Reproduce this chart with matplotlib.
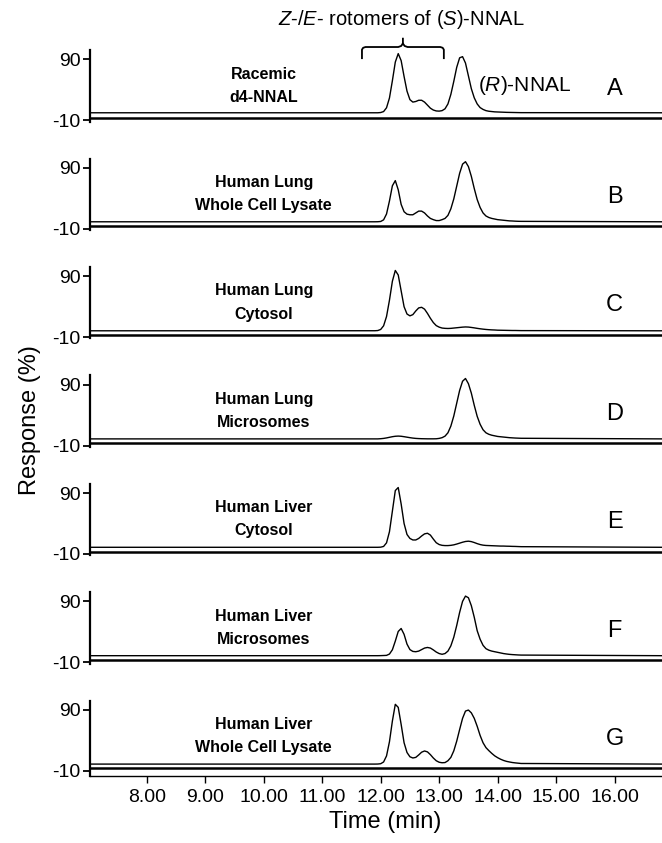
import matplotlib
matplotlib.use('Agg')
import matplotlib.pyplot as plt

plt.rcParams['font.family'] = ['Liberation Sans', 'DejaVu Sans']
plt.rcParams['mathtext.fontset'] = 'custom'
plt.rcParams['mathtext.rm'] = 'Liberation Sans'
plt.rcParams['mathtext.it'] = 'Liberation Sans:italic'

# retention time samples (min) across the peak window
peak_times = [11.90, 11.95, 12.00, 12.05, 12.10, 12.15, 12.20, 12.25, 12.30, 12.35,
              12.40, 12.45, 12.50, 12.55, 12.60, 12.65, 12.70, 12.75, 12.80, 12.85,
              12.90, 12.95, 13.00, 13.05, 13.10, 13.15, 13.20, 13.25, 13.30, 13.35,
              13.40, 13.45, 13.50, 13.55, 13.60, 13.65, 13.70, 13.75, 13.80, 13.85,
              13.90, 13.95, 14.00, 14.05, 14.10, 14.15, 14.20, 14.25, 14.30, 14.35, 14.40]
run_start = 7.03
run_end = 16.81

# response (%)
resp_a = [2.5, 2.5, 2.9, 4.5, 10.7, 26.7, 55, 85.6, 99.5, 88,
          62, 38, 24, 20, 21, 23, 23, 20, 15, 10,
          7, 5.5, 5.2, 6, 9, 17, 32.7, 54, 77, 92.6,
          94.5, 84, 63, 42, 27, 17, 11, 8, 6, 5,
          4.5, 4, 3.8, 3.6, 3.4, 3.2, 3.1, 3, 2.9, 2.8, 2.7]
resp_b = [1.5, 1.6, 2, 4.7, 14.3, 35.6, 60.5, 69, 54, 30,
          18, 14, 13, 13, 16, 19, 19, 16, 11, 7,
          5, 3.5, 3.5, 5, 7, 12, 22.8, 39, 60, 81,
          96, 100, 92, 76, 56, 38, 25, 16, 11, 8.5,
          7, 6, 5, 4.5, 4, 3.5, 3, 2.8, 2.5, 2.3, 2.2]
resp_c = [0.6, 0.9, 2.7, 8.7, 23.9, 50.6, 81.7, 99.4, 92, 66,
          40, 28, 25, 27, 33, 38, 39, 36, 29, 21,
          14, 9, 6.5, 5, 4.5, 4.3, 4.5, 5, 5.5, 6,
          6.5, 6.8, 6.6, 6, 5.3, 4.5, 3.8, 3.2, 2.7, 2.3,
          2, 1.8, 1.5, 1.4, 1.3, 1.2, 1.1, 1.0, 1.0, 0.9, 0.8]
resp_d = [1, 1, 1.3, 1.8, 2.6, 3.6, 4.6, 5.3, 5.6, 5.3,
          4.6, 3.8, 3, 2.3, 1.8, 1.5, 1.3, 1.2, 1.1, 1.1,
          1.1, 1.2, 1.8, 3, 5.5, 11, 22, 38.5, 59.5, 80.5,
          95.5, 100, 91.5, 76, 56, 38, 25, 16, 11, 8.5,
          7, 6, 5, 4.5, 4, 3.5, 3, 2.7, 2.4, 2.2, 2]
resp_e = [1, 1, 1.2, 2.4, 8.3, 26.5, 60.2, 94, 99, 72,
          40, 22, 15.5, 13, 13, 15.5, 19.5, 23, 24, 21,
          14.5, 8.5, 5.5, 4.2, 3.8, 3.8, 4.2, 5, 6.3, 7.8,
          9.3, 10.5, 11, 10.3, 8.8, 7, 5.5, 4.5, 4, 3.8,
          3.6, 3.4, 3.2, 3, 3, 2.8, 2.7, 2.5, 2.4, 2.2, 2]
resp_f = [1, 1, 1.1, 1.3, 1.5, 3.7, 10.7, 24.9, 40.7, 45.6,
          36, 20, 11, 8, 7.5, 8.5, 11, 13.5, 14.5, 13.5,
          10.5, 7, 4.5, 3.3, 4.5, 8.5, 17.2, 31.3, 50.5, 72,
          90, 98.7, 96, 83, 64, 42, 28, 18, 12.5, 10,
          8.5, 7.5, 6.5, 5.5, 4.5, 3.8, 3.2, 2.8, 2.5, 2.2, 2]
resp_g = [1, 1.1, 1.6, 4.5, 14.4, 37.6, 71.5, 99, 94, 66,
          36, 20, 13, 11, 12, 16, 20.5, 22.5, 21, 16.5,
          11, 6.5, 4, 3.2, 3.5, 6.5, 12, 22.7, 38.6, 57.7,
          76, 87.9, 89.6, 85, 76, 63, 48, 36, 28, 23,
          18.5, 14.5, 11.5, 9, 7, 5.5, 4.5, 3.6, 3, 2.5, 2]
baselines = [2.5, 1.5, 0.5, 1, 1, 1, 1]

responses = [resp_a, resp_b, resp_c, resp_d, resp_e, resp_f, resp_g]
sample_labels = [('Racemic', 'd4-NNAL'),
                 ('Human Lung', 'Whole Cell Lysate'),
                 ('Human Lung', 'Cytosol'),
                 ('Human Lung', 'Microsomes'),
                 ('Human Liver', 'Cytosol'),
                 ('Human Liver', 'Microsomes'),
                 ('Human Liver', 'Whole Cell Lysate')]
panel_letters = ['A', 'B', 'C', 'D', 'E', 'F', 'G']
time_ticks = [8, 9, 10, 11, 12, 13, 14, 15, 16]

W, H = 662, 843
fig = plt.figure(figsize=(W / 100, H / 100), dpi=100)

left_px = 90
px_per_unit = 0.61
y_top = 105

axes = []
for k in range(7):
    y_m10 = 120.4 + k * 108.4
    y_bot = -19 if k == 6 else -12
    top_px = y_m10 - (y_top + 10) * px_per_unit
    bot_px = y_m10 - (y_bot + 10) * px_per_unit
    ax = fig.add_axes([left_px / W, 1 - bot_px / H, 1 - left_px / W, (bot_px - top_px) / H])
    ax.set_xlim(run_start, run_end)
    ax.set_ylim(y_bot, y_top)

    base = baselines[k]
    t = [run_start] + peak_times + [run_end]
    r = [base] + responses[k] + [base]
    ax.plot(t, r, color='black', lw=1.0)
    ax.axhline(-6, color='black', lw=1.8)

    for side in ['top', 'right']:
        ax.spines[side].set_visible(False)
    ax.spines['left'].set_linewidth(1.6)
    ax.set_yticks([90, -10])
    ax.set_yticklabels(['90', '-10'])
    ax.tick_params(axis='y', length=5, width=1.3, labelsize=14, pad=2)

    if k == 6:
        ax.spines['bottom'].set_linewidth(1.0)
        ax.set_xticks(time_ticks)
        ax.set_xticklabels(['%.2f' % v for v in time_ticks])
        ax.tick_params(axis='x', length=5, width=1.0, labelsize=14, pad=4)
    else:
        ax.spines['bottom'].set_visible(False)
        ax.set_xticks([])

    line1, line2 = sample_labels[k]
    ax.text(10.0, 66, line1, ha='center', va='center', fontsize=11.5, fontweight='bold')
    ax.text(10.0, 28, line2, ha='center', va='center', fontsize=11.5, fontweight='bold')
    ax.text(16.0, 42, panel_letters[k], ha='center', va='center', fontsize=17)
    axes.append(ax)

# annotations on the racemic standard
ax_a = axes[0]
ax_a.text(13.67, 48, '($R$)-NNAL', ha='left', va='center', fontsize=15)
bx_left = [11.68, 11.68, 11.70, 11.74, 12.30, 12.35, 12.38, 12.38]
by_left = [92, 106, 109, 110.3, 110.3, 112, 116, 124]
bx_right = [12.38, 12.41, 12.46, 13.02, 13.06, 13.08, 13.08]
by_right = [116, 112, 110.3, 110.3, 109, 106, 92]
ax_a.plot(bx_left, by_left, color='black', lw=1.3, clip_on=False)
ax_a.plot(bx_right, by_right, color='black', lw=1.3, clip_on=False)
fig.text(0.606, 0.977, '$Z$-/$E$- rotomers of ($S$)-NNAL', ha='center', va='center', fontsize=14.5)

fig.text(0.045, 0.502, 'Response (%)', rotation=90, ha='center', va='center', fontsize=17)
fig.text(0.582, 0.025, 'Time (min)', ha='center', va='center', fontsize=17)

fig.savefig('out.png', dpi=100)
